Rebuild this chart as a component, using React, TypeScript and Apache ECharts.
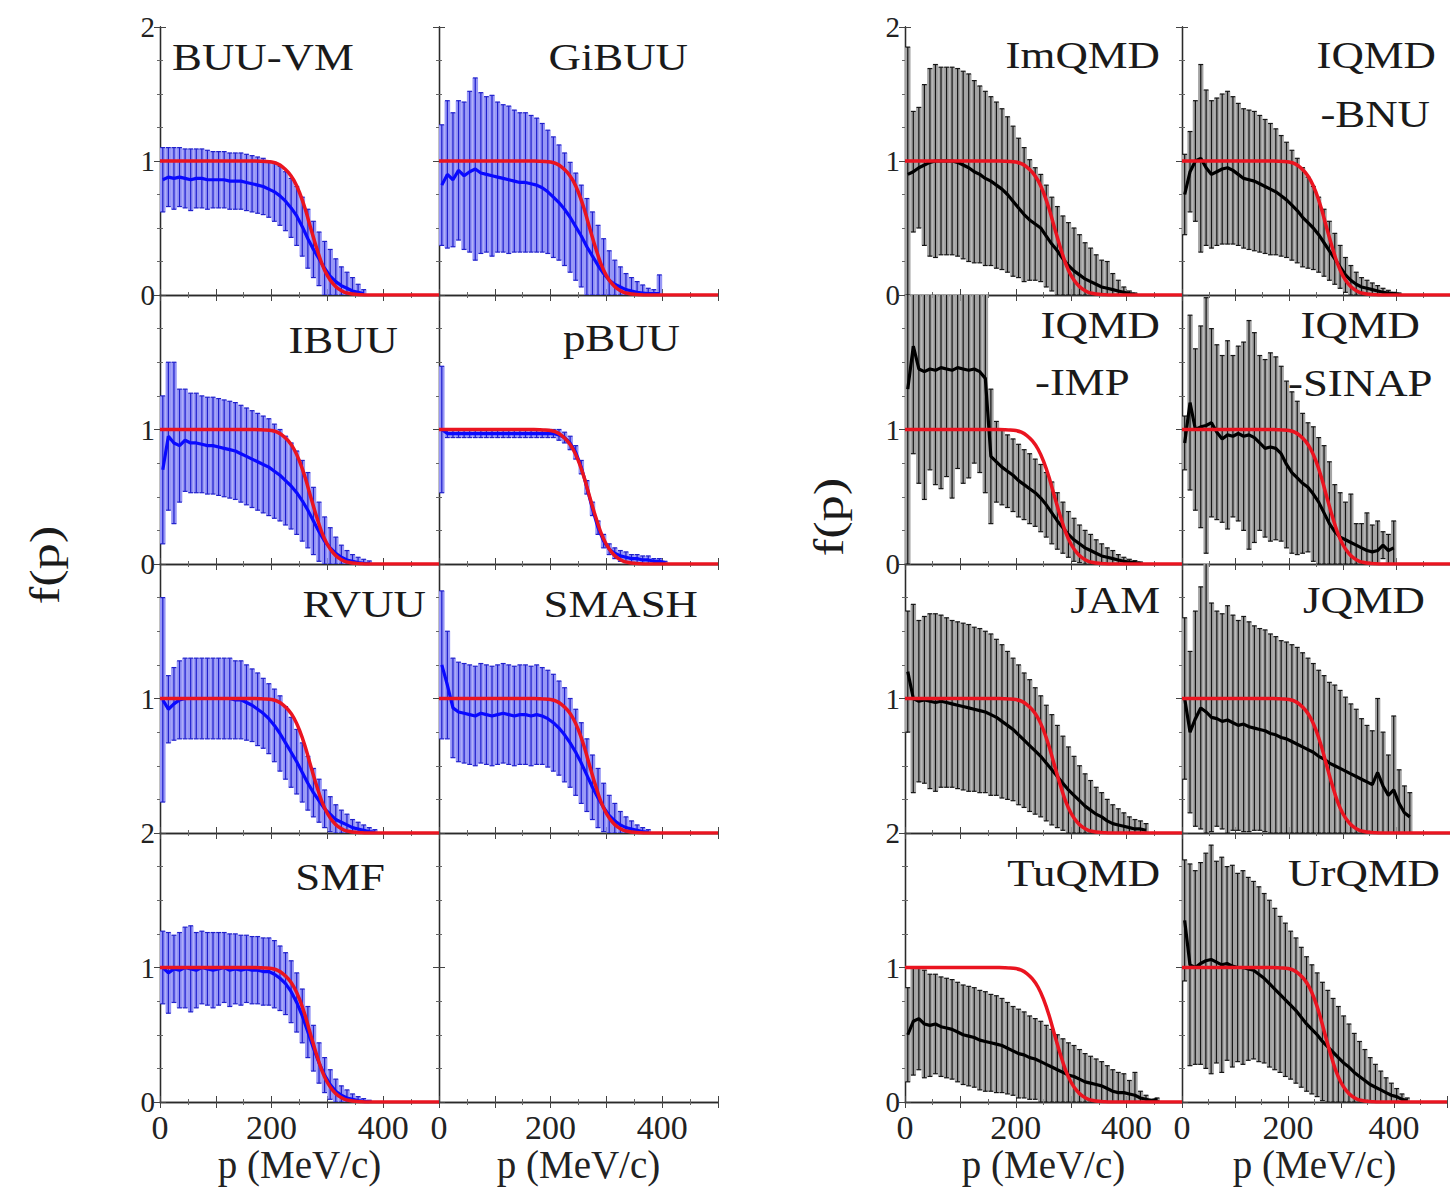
import React, { useEffect, useRef } from "react";
import * as echarts from "echarts";

// momentum grid (MeV/c) of the error-bar points
const P = [5, 15, 25, 35, 45, 55, 65, 75, 85, 95, 105, 115, 125, 135, 145, 155, 165, 175, 185, 195, 205, 215, 225, 235, 245, 255, 265, 275, 285, 295, 305, 315, 325, 335, 345, 355, 365, 375, 385, 395, 405, 415, 425, 435, 445, 455];

// red reference curve
const FERMI_P = [0, 10, 20, 30, 40, 50, 60, 70, 80, 90, 100, 110, 120, 130, 140, 150, 160, 170, 180, 190, 200, 210, 220, 230, 240, 250, 260, 270, 280, 290, 300, 310, 320, 330, 340, 350, 360, 370, 380, 390, 400, 410, 420, 430, 440, 450, 460, 470, 480, 490, 500];
const FERMI_F = [1, 1, 1, 1, 1, 1, 1, 1, 1, 1, 1, 1, 1, 1, 1, 1, 1, 1, 0.999, 0.997, 0.992, 0.98, 0.955, 0.915, 0.855, 0.765, 0.645, 0.5, 0.36, 0.235, 0.145, 0.085, 0.045, 0.022, 0.011, 0.005, 0.002, 0, 0, 0, 0, 0, 0, 0, 0, 0, 0, 0, 0, 0, 0];

const X_TICKS = [0, 200, 400];
const Y_TICKS_SHOWN = [[0, 1, 2], [0, 1], [1], [0, 1, 2]];

const BUU_VM_MEAN = [0.86, 0.88, 0.87, 0.88, 0.87, 0.86, 0.87, 0.87, 0.86, 0.86, 0.86, 0.86, 0.85, 0.85, 0.85, 0.84, 0.83, 0.82, 0.81, 0.79, 0.77, 0.74, 0.7, 0.65, 0.59, 0.51, 0.42, 0.34, 0.27, 0.2, 0.14, 0.1, 0.07, 0.05, 0.03, 0.02, 0.01];
const BUU_VM_ERR = [0.24, 0.22, 0.23, 0.22, 0.22, 0.23, 0.22, 0.22, 0.22, 0.21, 0.21, 0.21, 0.21, 0.21, 0.21, 0.21, 0.21, 0.21, 0.21, 0.21, 0.22, 0.22, 0.22, 0.22, 0.22, 0.22, 0.22, 0.21, 0.2, 0.2, 0.2, 0.17, 0.14, 0.12, 0.1, 0.06, 0.03];

const GIBUU_MEAN = [0.82, 0.9, 0.86, 0.93, 0.89, 0.92, 0.94, 0.91, 0.9, 0.89, 0.88, 0.87, 0.86, 0.85, 0.84, 0.84, 0.83, 0.82, 0.8, 0.77, 0.73, 0.69, 0.64, 0.58, 0.51, 0.44, 0.36, 0.29, 0.22, 0.16, 0.11, 0.08, 0.06, 0.04, 0.03, 0.02, 0.015, 0.01, 0.01, 0.01];
const GIBUU_ERR = [0.45, 0.55, 0.5, 0.52, 0.55, 0.6, 0.68, 0.6, 0.58, 0.6, 0.56, 0.55, 0.55, 0.53, 0.52, 0.52, 0.51, 0.5, 0.48, 0.46, 0.45, 0.43, 0.42, 0.41, 0.4, 0.38, 0.36, 0.33, 0.3, 0.26, 0.22, 0.18, 0.15, 0.12, 0.1, 0.08, 0.06, 0.04, 0.03, 0.14];

const IBUU_MEAN = [0.7, 0.95, 0.9, 0.88, 0.92, 0.9, 0.9, 0.89, 0.88, 0.88, 0.87, 0.86, 0.85, 0.84, 0.82, 0.8, 0.78, 0.76, 0.74, 0.72, 0.69, 0.66, 0.62, 0.58, 0.53, 0.47, 0.4, 0.32, 0.24, 0.17, 0.12, 0.08, 0.05, 0.03, 0.02, 0.01, 0.005, 0.003];
const IBUU_ERR = [0.55, 0.55, 0.6, 0.42, 0.38, 0.37, 0.37, 0.36, 0.36, 0.36, 0.36, 0.36, 0.36, 0.36, 0.36, 0.36, 0.36, 0.36, 0.36, 0.36, 0.35, 0.34, 0.33, 0.32, 0.31, 0.3, 0.28, 0.25, 0.22, 0.18, 0.15, 0.12, 0.09, 0.07, 0.05, 0.04, 0.03, 0.02];

const PBUU_MEAN = [1.0, 0.97, 0.97, 0.97, 0.97, 0.97, 0.97, 0.97, 0.97, 0.97, 0.97, 0.97, 0.97, 0.97, 0.97, 0.97, 0.97, 0.97, 0.97, 0.97, 0.97, 0.96, 0.94, 0.9, 0.83, 0.72, 0.57, 0.41, 0.27, 0.17, 0.11, 0.08, 0.06, 0.05, 0.04, 0.04, 0.03, 0.03, 0.02, 0.02, 0.01];
const PBUU_ERR = [0.47, 0.03, 0.03, 0.03, 0.03, 0.03, 0.03, 0.03, 0.03, 0.03, 0.03, 0.03, 0.03, 0.03, 0.03, 0.03, 0.03, 0.03, 0.03, 0.03, 0.03, 0.04, 0.04, 0.05, 0.05, 0.05, 0.05, 0.05, 0.05, 0.05, 0.04, 0.04, 0.04, 0.04, 0.03, 0.03, 0.03, 0.03, 0.02, 0.02, 0.01];

const RVUU_MEAN = [0.99, 0.92, 0.96, 0.99, 1.0, 1.0, 1.0, 1.0, 1.0, 1.0, 1.0, 1.0, 1.0, 0.99, 0.99, 0.97, 0.95, 0.92, 0.89, 0.85, 0.8, 0.74, 0.67, 0.6, 0.53, 0.45, 0.37, 0.3, 0.24, 0.18, 0.14, 0.1, 0.08, 0.06, 0.04, 0.03, 0.02, 0.01, 0.005];
const RVUU_ERR = [0.76, 0.25, 0.27, 0.29, 0.3, 0.3, 0.3, 0.3, 0.3, 0.3, 0.3, 0.3, 0.3, 0.29, 0.29, 0.28, 0.27, 0.27, 0.26, 0.26, 0.27, 0.28, 0.27, 0.26, 0.24, 0.22, 0.2, 0.18, 0.16, 0.14, 0.13, 0.11, 0.09, 0.08, 0.06, 0.05, 0.04, 0.03, 0.02];

const SMASH_MEAN = [1.25, 1.1, 0.93, 0.9, 0.89, 0.88, 0.87, 0.89, 0.88, 0.87, 0.88, 0.89, 0.88, 0.87, 0.88, 0.88, 0.87, 0.88, 0.87, 0.85, 0.82, 0.78, 0.73, 0.67, 0.6, 0.52, 0.43, 0.34, 0.26, 0.19, 0.13, 0.09, 0.06, 0.04, 0.03, 0.02, 0.01, 0.005];
const SMASH_ERR = [0.55, 0.4, 0.37, 0.37, 0.37, 0.37, 0.37, 0.37, 0.37, 0.37, 0.37, 0.37, 0.37, 0.37, 0.37, 0.37, 0.37, 0.37, 0.36, 0.36, 0.36, 0.35, 0.35, 0.33, 0.32, 0.3, 0.27, 0.24, 0.22, 0.18, 0.15, 0.13, 0.1, 0.08, 0.06, 0.04, 0.03, 0.02];

const SMF_MEAN = [1.0, 0.96, 0.99, 0.98, 1.0, 0.99, 0.98, 1.0, 0.99, 0.98, 0.99, 1.0, 0.98, 0.99, 0.98, 0.99, 0.98, 0.98, 0.97, 0.97, 0.95, 0.92, 0.88, 0.82, 0.74, 0.64, 0.52, 0.4, 0.29, 0.2, 0.13, 0.08, 0.05, 0.03, 0.02, 0.01, 0.005, 0.003];
const SMF_ERR = [0.27, 0.3, 0.25, 0.28, 0.3, 0.32, 0.28, 0.27, 0.27, 0.28, 0.27, 0.26, 0.27, 0.26, 0.26, 0.25, 0.25, 0.25, 0.25, 0.25, 0.25, 0.24, 0.23, 0.23, 0.22, 0.2, 0.19, 0.17, 0.15, 0.13, 0.11, 0.09, 0.07, 0.06, 0.04, 0.03, 0.02, 0.01];

const IMQMD_MEAN = [0.9, 0.92, 0.95, 0.97, 0.99, 1.0, 1.0, 1.0, 1.0, 0.99, 0.97, 0.95, 0.92, 0.9, 0.87, 0.85, 0.82, 0.79, 0.75, 0.7, 0.65, 0.6, 0.56, 0.53, 0.5, 0.44, 0.38, 0.33, 0.27, 0.22, 0.18, 0.15, 0.12, 0.1, 0.08, 0.06, 0.05, 0.04, 0.03, 0.02, 0.01, 0.005];
const IMQMD_ERR = [0.95, 0.45, 0.45, 0.6, 0.7, 0.72, 0.7, 0.7, 0.7, 0.7, 0.7, 0.7, 0.68, 0.66, 0.65, 0.63, 0.62, 0.6, 0.58, 0.56, 0.52, 0.5, 0.45, 0.42, 0.4, 0.38, 0.35, 0.33, 0.32, 0.32, 0.32, 0.3, 0.27, 0.25, 0.22, 0.2, 0.2, 0.12, 0.08, 0.04, 0.02, 0.01];

const IQMD_BNU_MEAN = [0.75, 0.92, 1.0, 1.02, 0.95, 0.9, 0.92, 0.94, 0.95, 0.93, 0.9, 0.87, 0.86, 0.85, 0.83, 0.81, 0.79, 0.77, 0.74, 0.71, 0.67, 0.63, 0.58, 0.54, 0.5, 0.45, 0.39, 0.33, 0.27, 0.21, 0.15, 0.11, 0.08, 0.06, 0.05, 0.04, 0.03, 0.02, 0.015, 0.01, 0.005];
const IQMD_BNU_ERR = [0.3, 0.3, 0.45, 0.7, 0.58, 0.55, 0.55, 0.56, 0.57, 0.55, 0.53, 0.52, 0.52, 0.52, 0.51, 0.5, 0.49, 0.47, 0.45, 0.43, 0.41, 0.39, 0.37, 0.34, 0.31, 0.28, 0.25, 0.22, 0.19, 0.16, 0.13, 0.11, 0.09, 0.07, 0.06, 0.05, 0.04, 0.03, 0.02, 0.01, 0.01];

const IQMD_IMP_MEAN = [1.3, 1.62, 1.45, 1.43, 1.45, 1.44, 1.46, 1.45, 1.44, 1.46, 1.45, 1.44, 1.45, 1.43, 1.38, 0.8, 0.76, 0.72, 0.69, 0.66, 0.62, 0.59, 0.56, 0.53, 0.49, 0.44, 0.38, 0.32, 0.27, 0.22, 0.18, 0.15, 0.12, 0.1, 0.08, 0.06, 0.05, 0.04, 0.03, 0.02, 0.015, 0.01, 0.005];
const IQMD_IMP_ERR = [1.3, 0.8, 0.85, 0.95, 0.75, 0.85, 0.9, 0.8, 0.95, 0.75, 0.85, 0.8, 0.7, 0.75, 0.85, 0.5, 0.3, 0.28, 0.27, 0.27, 0.27, 0.26, 0.26, 0.25, 0.25, 0.24, 0.23, 0.21, 0.19, 0.17, 0.16, 0.14, 0.13, 0.12, 0.1, 0.09, 0.07, 0.06, 0.04, 0.03, 0.02, 0.015, 0.01];

const IQMD_SINAP_MEAN = [0.9, 1.2, 1.0, 1.02, 1.03, 1.05, 0.98, 0.93, 0.96, 0.95, 0.97, 0.95, 0.96, 0.94, 0.9, 0.86, 0.87, 0.86, 0.82, 0.74, 0.68, 0.64, 0.6, 0.57, 0.52, 0.46, 0.38, 0.3, 0.24, 0.2, 0.18, 0.16, 0.14, 0.12, 0.1, 0.09, 0.1, 0.14, 0.1, 0.12];
const IQMD_SINAP_ERR = [0.2, 0.65, 0.6, 0.75, 0.95, 0.7, 0.65, 0.62, 0.7, 0.6, 0.65, 0.7, 0.85, 0.78, 0.65, 0.66, 0.7, 0.68, 0.65, 0.62, 0.6, 0.57, 0.52, 0.48, 0.5, 0.48, 0.5, 0.46, 0.35, 0.33, 0.28, 0.36, 0.16, 0.18, 0.28, 0.2, 0.22, 0.1, 0.12, 0.2];

const JAM_MEAN = [1.2, 1.0, 0.98, 0.99, 0.98, 0.97, 0.98, 0.97, 0.96, 0.95, 0.94, 0.93, 0.92, 0.91, 0.9, 0.88, 0.86, 0.83, 0.8, 0.77, 0.73, 0.69, 0.65, 0.61, 0.57, 0.52, 0.47, 0.42, 0.37, 0.32, 0.28, 0.24, 0.2, 0.17, 0.14, 0.12, 0.09, 0.07, 0.06, 0.05, 0.04, 0.03, 0.03, 0.02];
const JAM_ERR = [0.45, 0.7, 0.6, 0.62, 0.65, 0.66, 0.64, 0.63, 0.62, 0.62, 0.62, 0.62, 0.61, 0.61, 0.6, 0.6, 0.58, 0.57, 0.55, 0.53, 0.52, 0.5, 0.49, 0.47, 0.45, 0.43, 0.41, 0.38, 0.35, 0.32, 0.29, 0.26, 0.24, 0.22, 0.2, 0.18, 0.16, 0.14, 0.12, 0.1, 0.08, 0.07, 0.06, 0.05];

const JQMD_MEAN = [1.0, 0.75, 0.85, 0.93, 0.9, 0.86, 0.85, 0.83, 0.84, 0.82, 0.8, 0.81, 0.79, 0.78, 0.77, 0.76, 0.74, 0.73, 0.71, 0.7, 0.68, 0.66, 0.64, 0.62, 0.6, 0.57, 0.55, 0.52, 0.5, 0.48, 0.46, 0.44, 0.42, 0.4, 0.38, 0.36, 0.45, 0.35, 0.28, 0.32, 0.22, 0.15, 0.12];
const JQMD_ERR = [0.6, 0.6, 0.8, 0.9, 1.2, 0.85, 0.8, 0.8, 0.85, 0.8, 0.78, 0.8, 0.78, 0.76, 0.75, 0.75, 0.74, 0.73, 0.72, 0.72, 0.72, 0.72, 0.7, 0.68, 0.66, 0.64, 0.62, 0.6, 0.6, 0.58, 0.55, 0.52, 0.5, 0.45, 0.42, 0.4, 0.55, 0.4, 0.3, 0.55, 0.25, 0.2, 0.18];

const TUQMD_MEAN = [0.5, 0.6, 0.62, 0.58, 0.57, 0.58, 0.56, 0.55, 0.54, 0.52, 0.5, 0.49, 0.48, 0.46, 0.45, 0.44, 0.43, 0.42, 0.4, 0.38, 0.36, 0.35, 0.33, 0.32, 0.3, 0.28, 0.26, 0.24, 0.22, 0.2, 0.19, 0.17, 0.15, 0.14, 0.13, 0.12, 0.1, 0.08, 0.07, 0.07, 0.06, 0.05, 0.03, 0.02, 0.01, 0.02];
const TUQMD_ERR = [0.35, 0.4, 0.38, 0.4, 0.38, 0.37, 0.37, 0.37, 0.37, 0.37, 0.37, 0.37, 0.37, 0.37, 0.37, 0.36, 0.36, 0.35, 0.34, 0.33, 0.33, 0.32, 0.31, 0.3, 0.3, 0.29, 0.28, 0.26, 0.25, 0.24, 0.23, 0.22, 0.21, 0.2, 0.19, 0.18, 0.17, 0.16, 0.15, 0.14, 0.1, 0.17, 0.05, 0.03, 0.01, 0.01];

const URQMD_MEAN = [1.35, 1.02, 1.0, 1.03, 1.05, 1.06, 1.04, 1.02, 1.03, 1.01, 1.0, 1.0, 0.99, 0.98, 0.95, 0.92, 0.88, 0.84, 0.8, 0.76, 0.72, 0.68, 0.63, 0.58, 0.54, 0.5, 0.45, 0.41, 0.37, 0.33, 0.29, 0.26, 0.22, 0.19, 0.16, 0.13, 0.11, 0.09, 0.07, 0.05, 0.04, 0.02, 0.01];
const URQMD_ERR = [0.45, 0.75, 0.72, 0.75, 0.8, 0.85, 0.75, 0.8, 0.72, 0.75, 0.7, 0.72, 0.68, 0.66, 0.65, 0.63, 0.62, 0.6, 0.58, 0.57, 0.55, 0.54, 0.52, 0.5, 0.48, 0.46, 0.44, 0.42, 0.4, 0.38, 0.35, 0.32, 0.29, 0.26, 0.23, 0.2, 0.17, 0.14, 0.11, 0.09, 0.06, 0.04, 0.02];

type Panel = { block: number; col: number; row: number; mean: number[]; err: number[]; kind: "blue" | "black" | "none" };

const PANELS: Panel[] = [
  { block: 0, col: 0, row: 0, mean: BUU_VM_MEAN, err: BUU_VM_ERR, kind: "blue" },
  { block: 0, col: 1, row: 0, mean: GIBUU_MEAN, err: GIBUU_ERR, kind: "blue" },
  { block: 0, col: 0, row: 1, mean: IBUU_MEAN, err: IBUU_ERR, kind: "blue" },
  { block: 0, col: 1, row: 1, mean: PBUU_MEAN, err: PBUU_ERR, kind: "blue" },
  { block: 0, col: 0, row: 2, mean: RVUU_MEAN, err: RVUU_ERR, kind: "blue" },
  { block: 0, col: 1, row: 2, mean: SMASH_MEAN, err: SMASH_ERR, kind: "blue" },
  { block: 0, col: 0, row: 3, mean: SMF_MEAN, err: SMF_ERR, kind: "blue" },
  { block: 0, col: 1, row: 3, mean: [], err: [], kind: "none" },
  { block: 1, col: 0, row: 0, mean: IMQMD_MEAN, err: IMQMD_ERR, kind: "black" },
  { block: 1, col: 1, row: 0, mean: IQMD_BNU_MEAN, err: IQMD_BNU_ERR, kind: "black" },
  { block: 1, col: 0, row: 1, mean: IQMD_IMP_MEAN, err: IQMD_IMP_ERR, kind: "black" },
  { block: 1, col: 1, row: 1, mean: IQMD_SINAP_MEAN, err: IQMD_SINAP_ERR, kind: "black" },
  { block: 1, col: 0, row: 2, mean: JAM_MEAN, err: JAM_ERR, kind: "black" },
  { block: 1, col: 1, row: 2, mean: JQMD_MEAN, err: JQMD_ERR, kind: "black" },
  { block: 1, col: 0, row: 3, mean: TUQMD_MEAN, err: TUQMD_ERR, kind: "black" },
  { block: 1, col: 1, row: 3, mean: URQMD_MEAN, err: URQMD_ERR, kind: "black" },
];

// panel labels: [text, x, y, align]
const LABELS: [string, number, number, string][] = [
  ["BUU-VM", 172, 57, "left"],
  ["GiBUU", 688, 57, "right"],
  ["IBUU", 398, 340, "right"],
  ["pBUU", 680, 338, "right"],
  ["RVUU", 426, 604, "right"],
  ["SMASH", 698, 604, "right"],
  ["SMF", 385, 877, "right"],
  ["ImQMD", 1160, 55, "right"],
  ["IQMD", 1436, 55, "right"],
  ["-BNU", 1430, 114, "right"],
  ["IQMD", 1160, 325, "right"],
  ["-IMP", 1035, 382, "left"],
  ["IQMD", 1420, 325, "right"],
  ["-SINAP", 1288, 383, "left"],
  ["JAM", 1160, 600, "right"],
  ["JQMD", 1425, 600, "right"],
  ["TuQMD", 1160, 873, "right"],
  ["UrQMD", 1440, 873, "right"],
];

const BLOCK_X = [[160, 439], [905, 1182]];
const COL_W = [279, 277];
const ROW_TOP = [27, 295, 564, 833];
const ROW_H = [268, 269, 269, 269];
const FONT = "Liberation Serif, Times New Roman, serif";

const STYLES: any = {
  blue: { band: "#9797f6", bar: "#2020cc", line: "#0a0aff" },
  black: { band: "#a4a4a4", bar: "#151515", line: "#000000" },
};
const RED = "#ea1420";

function buildOption() {
  const grid: any[] = [];
  const xAxis: any[] = [];
  const yAxis: any[] = [];
  const series: any[] = [];

  PANELS.forEach((pn, g) => {
    const left = BLOCK_X[pn.block][pn.col];
    grid.push({ left, top: ROW_TOP[pn.row], width: COL_W[pn.block], height: ROW_H[pn.row], containLabel: false });
    const isBottom = pn.row === 3;
    const axisCommon = {
      gridIndex: g,
      type: "value",
      axisLine: { show: true, lineStyle: { color: "#2a2a2a", width: 1.3 } },
      axisTick: { show: true, inside: true, length: 6, lineStyle: { color: "#444" } },
      minorTick: { show: true, length: 3, splitNumber: 2, lineStyle: { color: "#666" } },
      splitLine: { show: false },
    };
    xAxis.push({
      ...axisCommon,
      position: "bottom",
      min: 0,
      max: 500,
      interval: 100,
      axisLabel: {
        show: isBottom,
        fontFamily: FONT,
        fontSize: 34,
        color: "#222",
        margin: 8,
        formatter: (v: number) => (X_TICKS.includes(v) ? String(v) : ""),
      },
      name: isBottom ? "p (MeV/c)" : "",
      nameLocation: "middle",
      nameGap: 42,
      nameTextStyle: { fontFamily: FONT, fontSize: 39, color: "#222" },
    });
    xAxis.push({ ...axisCommon, position: "top", min: 0, max: 500, interval: 100, axisLabel: { show: false } });
    const shown = Y_TICKS_SHOWN[pn.row];
    yAxis.push({
      ...axisCommon,
      position: "left",
      min: 0,
      max: 2,
      interval: 1,
      minorTick: { show: true, length: 3, splitNumber: 4, lineStyle: { color: "#666" } },
      axisLabel: {
        show: pn.col === 0,
        fontFamily: FONT,
        fontSize: 29,
        color: "#222",
        margin: 5,
        formatter: (v: number) => (shown.includes(v) ? String(v) : ""),
      },
    });
    yAxis.push({
      ...axisCommon,
      position: "right",
      min: 0,
      max: 2,
      interval: 1,
      minorTick: { show: true, length: 3, splitNumber: 4, lineStyle: { color: "#666" } },
      axisLabel: { show: false },
    });

    if (pn.kind === "none") return;
    const st = STYLES[pn.kind];
    const data = pn.mean.map((m, i) => [P[i], m, pn.err[i]]);
    const xi = 2 * g;
    const yi = 2 * g;

    series.push({
      type: "custom",
      xAxisIndex: xi,
      yAxisIndex: yi,
      clip: true,
      silent: true,
      data,
      encode: { x: 0, y: 1 },
      renderItem: (params: any, api: any) => {
        const p = api.value(0);
        const m = api.value(1);
        const e = api.value(2);
        const a = api.coord([p - 5, m + e]);
        const b = api.coord([p + 5, Math.max(0, m - e)]);
        return {
          type: "rect",
          shape: { x: a[0], y: a[1], width: b[0] - a[0], height: b[1] - a[1] },
          style: { fill: st.band },
        };
      },
    });
    series.push({
      type: "custom",
      xAxisIndex: xi,
      yAxisIndex: yi,
      clip: true,
      silent: true,
      data,
      encode: { x: 0, y: 1 },
      renderItem: (params: any, api: any) => {
        const p = api.value(0);
        const m = api.value(1);
        const e = api.value(2);
        const t = api.coord([p, m + e]);
        const b = api.coord([p, Math.max(0, m - e)]);
        const w = 2.4;
        const ls = { stroke: st.bar, lineWidth: 1.2 };
        return {
          type: "group",
          children: [
            { type: "line", shape: { x1: t[0], y1: t[1], x2: b[0], y2: b[1] }, style: ls },
            { type: "line", shape: { x1: t[0] - w, y1: t[1], x2: t[0] + w, y2: t[1] }, style: ls },
            { type: "line", shape: { x1: b[0] - w, y1: b[1], x2: b[0] + w, y2: b[1] }, style: ls },
          ],
        };
      },
    });
    series.push({
      type: "line",
      xAxisIndex: xi,
      yAxisIndex: yi,
      data: pn.mean.map((m, i) => [P[i], m]),
      showSymbol: false,
      clip: true,
      silent: true,
      lineStyle: { color: st.line, width: 3.2 },
    });
    series.push({
      type: "line",
      xAxisIndex: xi,
      yAxisIndex: yi,
      data: FERMI_P.map((p, i) => [p, FERMI_F[i]]),
      showSymbol: false,
      smooth: 0.3,
      clip: true,
      silent: true,
      lineStyle: { color: RED, width: 3.5 },
    });
  });

  const graphic: any[] = LABELS.map(([text, x, y, align]) => ({
    type: "text",
    x,
    y,
    scaleX: 1.18,
    silent: true,
    z: 100,
    style: { text, font: `38px ${FONT}`, fill: "#1a1a1a", textAlign: align, textVerticalAlign: "middle" },
  }));
  graphic.push({
    type: "text",
    x: 45,
    y: 565,
    rotation: Math.PI / 2,
    scaleX: 1.25,
    silent: true,
    style: { text: "f(p)", font: `42px ${FONT}`, fill: "#1a1a1a", textAlign: "center", textVerticalAlign: "middle" },
  });
  graphic.push({
    type: "text",
    x: 829,
    y: 517,
    rotation: Math.PI / 2,
    scaleX: 1.25,
    silent: true,
    style: { text: "f(p)", font: `42px ${FONT}`, fill: "#1a1a1a", textAlign: "center", textVerticalAlign: "middle" },
  });

  return {
    animation: false,
    backgroundColor: "#ffffff",
    grid,
    xAxis,
    yAxis,
    series,
    graphic,
  };
}

export default function App() {
  const ref = useRef<HTMLDivElement>(null);
  useEffect(() => {
    if (!ref.current) return;
    const chart = echarts.init(ref.current, undefined, { renderer: "svg" });
    chart.setOption(buildOption() as any);
    return () => chart.dispose();
  }, []);
  return (
    <div
      ref={ref}
      style={{ position: "absolute", left: 0, top: 0, width: 1450, height: 1203, background: "#fff" }}
    />
  );
}
